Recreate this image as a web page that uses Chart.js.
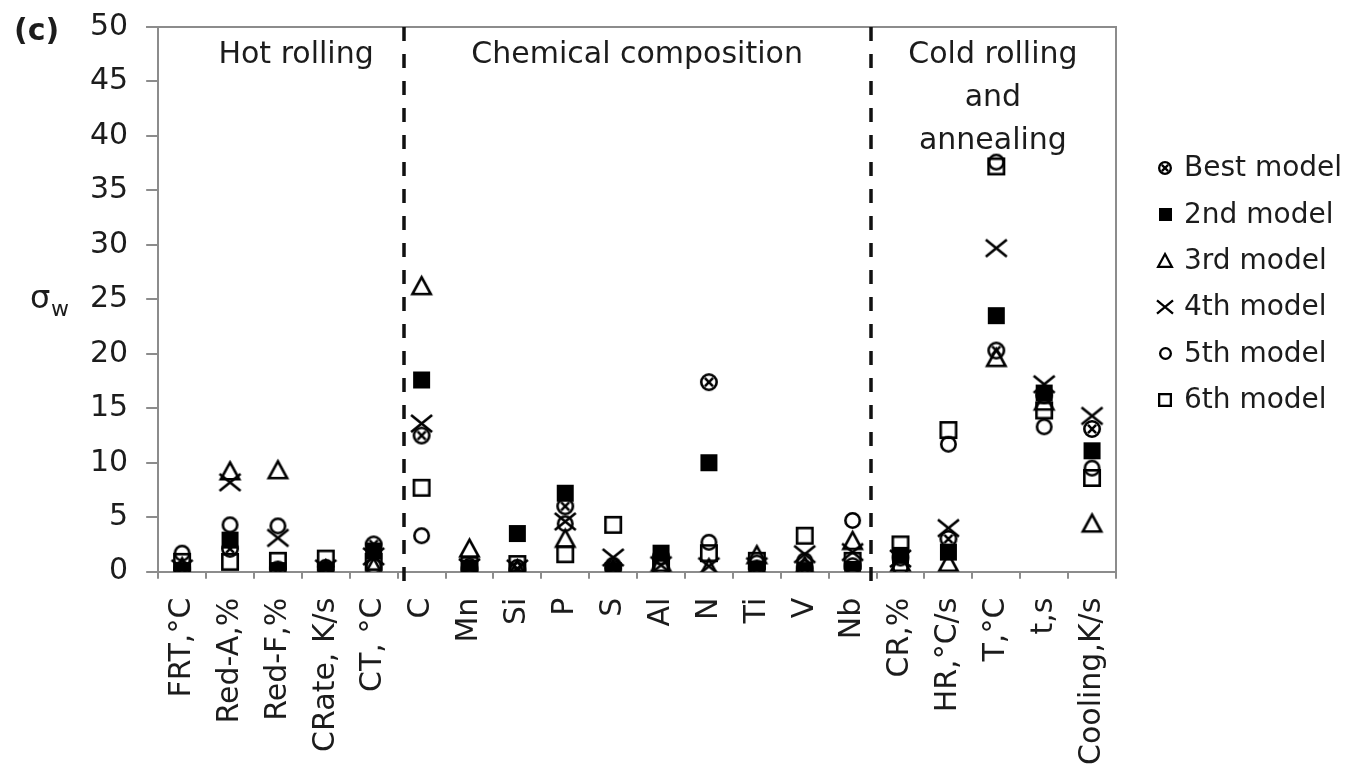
<!DOCTYPE html>
<html>
<head>
<meta charset="utf-8">
<script src="https://cdn.jsdelivr.net/npm/chart.js@4/dist/chart.umd.min.js"></script>
<style>
  html, body { margin: 0; padding: 0; background: #fff; overflow: hidden; }
  #wrap { width: 1355px; height: 769px; position: relative; }
</style>
</head>
<body>
<div id="wrap"><canvas id="chart"></canvas></div>
<script>
// Process variables (x categories)
const categories = ['FRT,°C', 'Red-A,%', 'Red-F,%', 'CRate, K/s', 'CT, °C',
  'C', 'Mn', 'Si', 'P', 'S', 'Al', 'N', 'Ti', 'V', 'Nb',
  'CR,%', 'HR,°C/s', 'T,°C', 't,s', 'Cooling,K/s'];

// Series names
const seriesNames = ['Best model', '2nd model', '3rd model', '4th model', '5th model', '6th model'];

// sigma_w values for each model, one value per category
const bestModel   = [0.2, 2.1, 0.2, 0.2, 2.5, 12.5, 0.2, 0.1, 6.0, 0.3, 1.4, 17.4, 0.3, 0.3, 0.5, 1.3, 3.0, 20.3, 16.2, 13.1];
const secondModel = [0.1, 2.9, 0.1, 0.1, 1.9, 17.6, 0.3, 3.5, 7.2, 0.1, 1.7, 10.0, 0.2, 0.1, 0.2, 1.5, 1.8, 23.5, 16.4, 11.1];
const thirdModel  = [0.4, 9.2, 9.3, 0.2, 0.4, 26.2, 2.1, 0.2, 3.0, 0.2, 0.8, 0.3, 1.5, 0.5, 2.8, 0.8, 0.8, 19.6, 15.6, 4.4];
const fourthModel = [0.3, 8.2, 3.1, 0.3, 1.4, 13.6, 0.4, 0.3, 4.6, 1.3, 0.6, 0.5, 0.5, 1.6, 1.8, 1.2, 4.0, 29.7, 17.2, 14.3];
const fifthModel  = [1.7, 4.3, 4.2, 0.4, 0.5, 3.3, 0.5, 0.4, 4.4, 0.6, 0.5, 2.7, 0.8, 1.0, 4.7, 0.4, 11.7, 37.6, 13.3, 9.5];
const sixthModel  = [0.9, 0.9, 1.0, 1.2, 0.9, 7.7, 0.6, 0.7, 1.6, 4.3, 0.4, 1.7, 1.0, 3.3, 1.0, 2.5, 13.0, 37.2, 14.8, 8.6];

// y-axis tick values
const yTickValues = [0, 5, 10, 15, 20, 25, 30, 35, 40, 45, 50];

// Process-stage group headings
const groupHeadings = [['Hot rolling'], ['Chemical composition'], ['Cold rolling', 'and', 'annealing']];

const FONT = "'DejaVu Sans', 'Liberation Sans', sans-serif";
const INK = '#1c1c1c';
const AXIS = '#8c8c8c';

// ---- marker images ----
function makeMarker(kind, s, lw) {
  const pad = Math.ceil(lw) + 2;
  const w = Math.ceil(s) + 2 * pad;
  const c = document.createElement('canvas');
  c.width = w; c.height = w;
  const g = c.getContext('2d');
  const cx = w / 2, cy = w / 2, r = s / 2;
  g.strokeStyle = '#000';
  g.fillStyle = '#000';
  g.lineWidth = lw;
  g.lineCap = 'butt';
  g.beginPath();
  switch (kind) {
    case 'crossCircle': {
      g.arc(cx, cy, r - lw / 2, 0, Math.PI * 2);
      g.stroke();
      const d = r * 0.45;
      g.beginPath();
      g.moveTo(cx - d, cy - d); g.lineTo(cx + d, cy + d);
      g.moveTo(cx + d, cy - d); g.lineTo(cx - d, cy + d);
      g.stroke();
      break;
    }
    case 'filledSquare':
      g.fillRect(cx - r, cy - r, s, s);
      break;
    case 'triangle': {
      const h = s * 0.866;
      g.moveTo(cx, cy - h / 2);
      g.lineTo(cx + r - lw / 2, cy + h / 2 - lw / 2);
      g.lineTo(cx - r + lw / 2, cy + h / 2 - lw / 2);
      g.closePath();
      g.stroke();
      break;
    }
    case 'cross': {
      const hy = r * 0.82;
      g.moveTo(cx - r, cy - hy); g.lineTo(cx + r, cy + hy);
      g.moveTo(cx + r, cy - hy); g.lineTo(cx - r, cy + hy);
      g.stroke();
      break;
    }
    case 'circle':
      g.arc(cx, cy, r - lw / 2, 0, Math.PI * 2);
      g.stroke();
      break;
    case 'square':
      g.strokeRect(cx - r + lw / 2, cy - r + lw / 2, s - lw, s - lw);
      break;
  }
  return c;
}

const markerKinds = ['crossCircle', 'filledSquare', 'triangle', 'cross', 'circle', 'square'];
const plotSizes   = [18, 17, 21, 21, 17, 18];
const legendSizes = [14, 13, 16, 16, 13, 14];
const plotMarkers   = markerKinds.map((k, i) => makeMarker(k, plotSizes[i], 2.6));
const legendMarkers = markerKinds.map((k, i) => makeMarker(k, legendSizes[i], 2.3));

const seriesValues = [bestModel, secondModel, thirdModel, fourthModel, fifthModel, sixthModel];

// ---- decorations: frame, stage dividers, headings, axis symbol, legend ----
const dividerAt = [4.64, 14.39];      // category-axis positions of the stage dividers
const headingAt = [2.38, 9.5, 16.93];  // category-axis positions of the headings

const decorations = {
  id: 'decorations',
  beforeDatasetsDraw(chart) {
    const { ctx, chartArea: a, scales: { x } } = chart;
    ctx.save();
    // top and right frame lines
    ctx.strokeStyle = AXIS;
    ctx.lineWidth = 2;
    ctx.beginPath();
    ctx.moveTo(a.left - 12, a.top); ctx.lineTo(a.right, a.top); ctx.lineTo(a.right, a.bottom);
    ctx.stroke();
    // dashed stage dividers
    ctx.strokeStyle = '#111';
    ctx.lineWidth = 3.5;
    ctx.setLineDash([14, 13]);
    dividerAt.forEach(v => {
      const px = Math.round(x.getPixelForValue(v));
      ctx.beginPath();
      ctx.moveTo(px, a.top);
      ctx.lineTo(px, a.bottom + 12);
      ctx.stroke();
    });
    ctx.restore();
  },
  afterDraw(chart) {
    const { ctx, chartArea: a, scales: { x } } = chart;
    ctx.save();
    ctx.fillStyle = INK;
    // stage headings
    ctx.font = `30px ${FONT}`;
    ctx.textAlign = 'center';
    ctx.textBaseline = 'alphabetic';
    groupHeadings.forEach((lines, i) => {
      const px = x.getPixelForValue(headingAt[i]);
      lines.forEach((t, j) => ctx.fillText(t, px, a.top + 36 + j * 43));
    });
    // panel tag
    ctx.textAlign = 'left';
    ctx.font = `bold 30px ${FONT}`;
    ctx.fillText('(c)', 14, 40);
    // y-axis symbol sigma_w
    ctx.font = `32px ${FONT}`;
    ctx.fillText('σ', 30, 308);
    ctx.font = `22px ${FONT}`;
    ctx.fillText('w', 51, 316);
    // legend
    ctx.font = `28px ${FONT}`;
    ctx.textBaseline = 'middle';
    seriesNames.forEach((name, i) => {
      const y = 168 + i * 46.4;
      const m = legendMarkers[i];
      ctx.drawImage(m, Math.round(1165 - m.width / 2), Math.round(y - m.height / 2));
      ctx.fillText(name, 1184, y + 1);
    });
    ctx.restore();
  }
};

new Chart(document.getElementById('chart'), {
  type: 'line',
  data: {
    labels: categories,
    datasets: seriesNames.map((name, i) => ({
      label: name,
      data: seriesValues[i],
      showLine: false,
      pointStyle: plotMarkers[i],
      pointRadius: 9,
      pointHoverRadius: 9,
      borderColor: '#000',
      backgroundColor: '#000'
    }))
  },
  options: {
    responsive: true,
    maintainAspectRatio: false,
    animation: false,
    events: [],
    layout: { padding: { left: 72, right: 239, top: 0, bottom: -15 } },
    plugins: { legend: { display: false }, tooltip: { enabled: false } },
    scales: {
      x: {
        type: 'category',
        offset: true,
        border: { color: AXIS, width: 2 },
        grid: { offset: true, drawOnChartArea: false, tickLength: 7, tickColor: AXIS, lineWidth: 2 },
        ticks: {
          autoSkip: false, minRotation: 90, maxRotation: 90, padding: 19,
          color: INK, font: { family: FONT, size: 30 }
        }
      },
      y: {
        min: 0, max: 50,
        afterBuildTicks: s => { s.ticks = yTickValues.map(v => ({ value: v })); },
        border: { color: AXIS, width: 2 },
        grid: { drawOnChartArea: false, tickLength: 12, tickColor: AXIS, lineWidth: 2 },
        ticks: { padding: 18, color: INK, font: { family: FONT, size: 30, lineHeight: 0.6 } }
      }
    }
  },
  plugins: [decorations]
});
</script>
</body>
</html>
